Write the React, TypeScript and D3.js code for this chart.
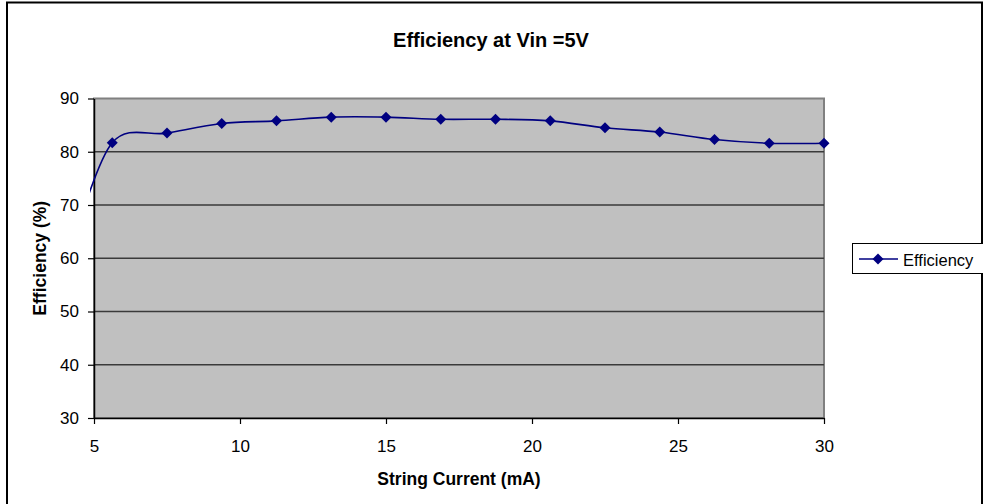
import { useEffect, useRef } from "react";
import * as d3 from "d3";

const currents = [4.3, 5.625, 7.5, 9.375, 11.25, 13.125, 15, 16.875, 18.75, 20.625, 22.5, 24.375, 26.25, 28.125, 30];
const efficiency = [63, 81.7, 83.5, 85.3, 85.8, 86.5, 86.5, 86.1, 86.1, 85.8, 84.5, 83.7, 82.3, 81.6, 81.6];
const xTicks = [5, 10, 15, 20, 25, 30];
const yTicks = [30, 40, 50, 60, 70, 80, 90];

const FONT = "Arial, 'Liberation Sans', sans-serif";
const NAVY = "#000080";

export default function App() {
  const svgRef = useRef<SVGSVGElement | null>(null);

  useEffect(() => {
    const svgElement = svgRef.current;
    if (!svgElement) return;

    const width = 983;
    const height = 504;
    const plot = { left: 94, right: 824, top: 98.5, bottom: 418 };

    const x = d3.scaleLinear().domain([5, 30]).range([plot.left, plot.right]);
    const y = d3.scaleLinear().domain([30, 90]).range([plot.bottom, plot.top]);

    const svg = d3.select(svgElement);
    svg.selectAll("*").remove();
    svg.attr("width", width).attr("height", height).attr("viewBox", `0 0 ${width} ${height}`);

    svg.append("rect").attr("width", width).attr("height", height).attr("fill", "#fff");

    // outer chart border
    svg
      .append("rect")
      .attr("x", 7)
      .attr("y", 2.5)
      .attr("width", 975)
      .attr("height", 520)
      .attr("fill", "none")
      .attr("stroke", "#000")
      .attr("stroke-width", 2);

    svg
      .append("text")
      .attr("x", 491)
      .attr("y", 47)
      .attr("text-anchor", "middle")
      .attr("font-family", FONT)
      .attr("font-size", 20)
      .attr("font-weight", "bold")
      .text("Efficiency at Vin =5V");

    // plot area
    svg
      .append("rect")
      .attr("x", plot.left)
      .attr("y", plot.top)
      .attr("width", plot.right - plot.left)
      .attr("height", plot.bottom - plot.top)
      .attr("fill", "#c0c0c0")
      .attr("stroke", "#808080")
      .attr("stroke-width", 2);

    svg
      .append("g")
      .selectAll("line")
      .data(yTicks.filter((t) => t > 30 && t < 90))
      .join("line")
      .attr("x1", plot.left)
      .attr("x2", plot.right)
      .attr("y1", (d) => y(d))
      .attr("y2", (d) => y(d))
      .attr("stroke", "#3a3a3a")
      .attr("stroke-width", 1.5);

    // axes
    const yAxis = svg
      .append("g")
      .attr("transform", `translate(${plot.left},0)`)
      .call(d3.axisLeft(y).tickValues(yTicks).tickSize(6).tickSizeOuter(0).tickPadding(9));
    const xAxis = svg
      .append("g")
      .attr("transform", `translate(0,${plot.bottom})`)
      .call(d3.axisBottom(x).tickValues(xTicks).tickSize(6).tickSizeOuter(0).tickPadding(16));
    [yAxis, xAxis].forEach((axis) => {
      axis.select(".domain").attr("stroke", "#000").attr("stroke-width", 1.5);
      axis.selectAll(".tick line").attr("stroke", "#000").attr("stroke-width", 1.2);
      axis
        .selectAll(".tick text")
        .attr("font-family", FONT)
        .attr("font-size", 17)
        .attr("fill", "#000");
    });

    svg
      .append("text")
      .attr("x", 459)
      .attr("y", 485)
      .attr("text-anchor", "middle")
      .attr("font-family", FONT)
      .attr("font-size", 17.5)
      .attr("font-weight", "bold")
      .text("String Current (mA)");

    svg
      .append("text")
      .attr("transform", `translate(46,${(plot.top + plot.bottom) / 2}) rotate(-90)`)
      .attr("text-anchor", "middle")
      .attr("font-family", FONT)
      .attr("font-size", 17.5)
      .attr("font-weight", "bold")
      .text("Efficiency (%)");

    // series, clipped just left of the value axis
    svg
      .append("clipPath")
      .attr("id", "plot-clip")
      .append("rect")
      .attr("x", plot.left - 4)
      .attr("y", 0)
      .attr("width", plot.right - plot.left + 20)
      .attr("height", height);

    const points = currents.map((c, i) => [c, efficiency[i]] as [number, number]);
    const line = d3
      .line<[number, number]>()
      .x((d) => x(d[0]))
      .y((d) => y(d[1]))
      .curve(d3.curveCardinal.tension(0));

    const series = svg.append("g").attr("clip-path", "url(#plot-clip)");
    series
      .append("path")
      .attr("d", line(points))
      .attr("fill", "none")
      .attr("stroke", NAVY)
      .attr("stroke-width", 1.6);

    // square diamond marker
    const diamond = "M0,-5.5L5.5,0L0,5.5L-5.5,0Z";
    series
      .selectAll("path.marker")
      .data(points.filter((d) => d[0] >= 5))
      .join("path")
      .attr("class", "marker")
      .attr("d", diamond)
      .attr("transform", (d) => `translate(${x(d[0])},${y(d[1])})`)
      .attr("fill", NAVY);

    // legend
    const legend = svg.append("g");
    legend
      .append("rect")
      .attr("x", 852.5)
      .attr("y", 243.5)
      .attr("width", 140)
      .attr("height", 30)
      .attr("fill", "#fff")
      .attr("stroke", "#000")
      .attr("stroke-width", 1);
    legend
      .append("line")
      .attr("x1", 859)
      .attr("x2", 898)
      .attr("y1", 259)
      .attr("y2", 259)
      .attr("stroke", NAVY)
      .attr("stroke-width", 1.6);
    legend
      .append("path")
      .attr("d", diamond)
      .attr("transform", "translate(878,259)")
      .attr("fill", NAVY);
    legend
      .append("text")
      .attr("x", 903)
      .attr("y", 266)
      .attr("font-family", FONT)
      .attr("font-size", 16.5)
      .text("Efficiency");
  }, []);

  return (
    <svg
      ref={svgRef}
      style={{ position: "absolute", left: 0, top: 0, display: "block" }}
      role="img"
      aria-label="Efficiency at Vin =5V"
    />
  );
}
